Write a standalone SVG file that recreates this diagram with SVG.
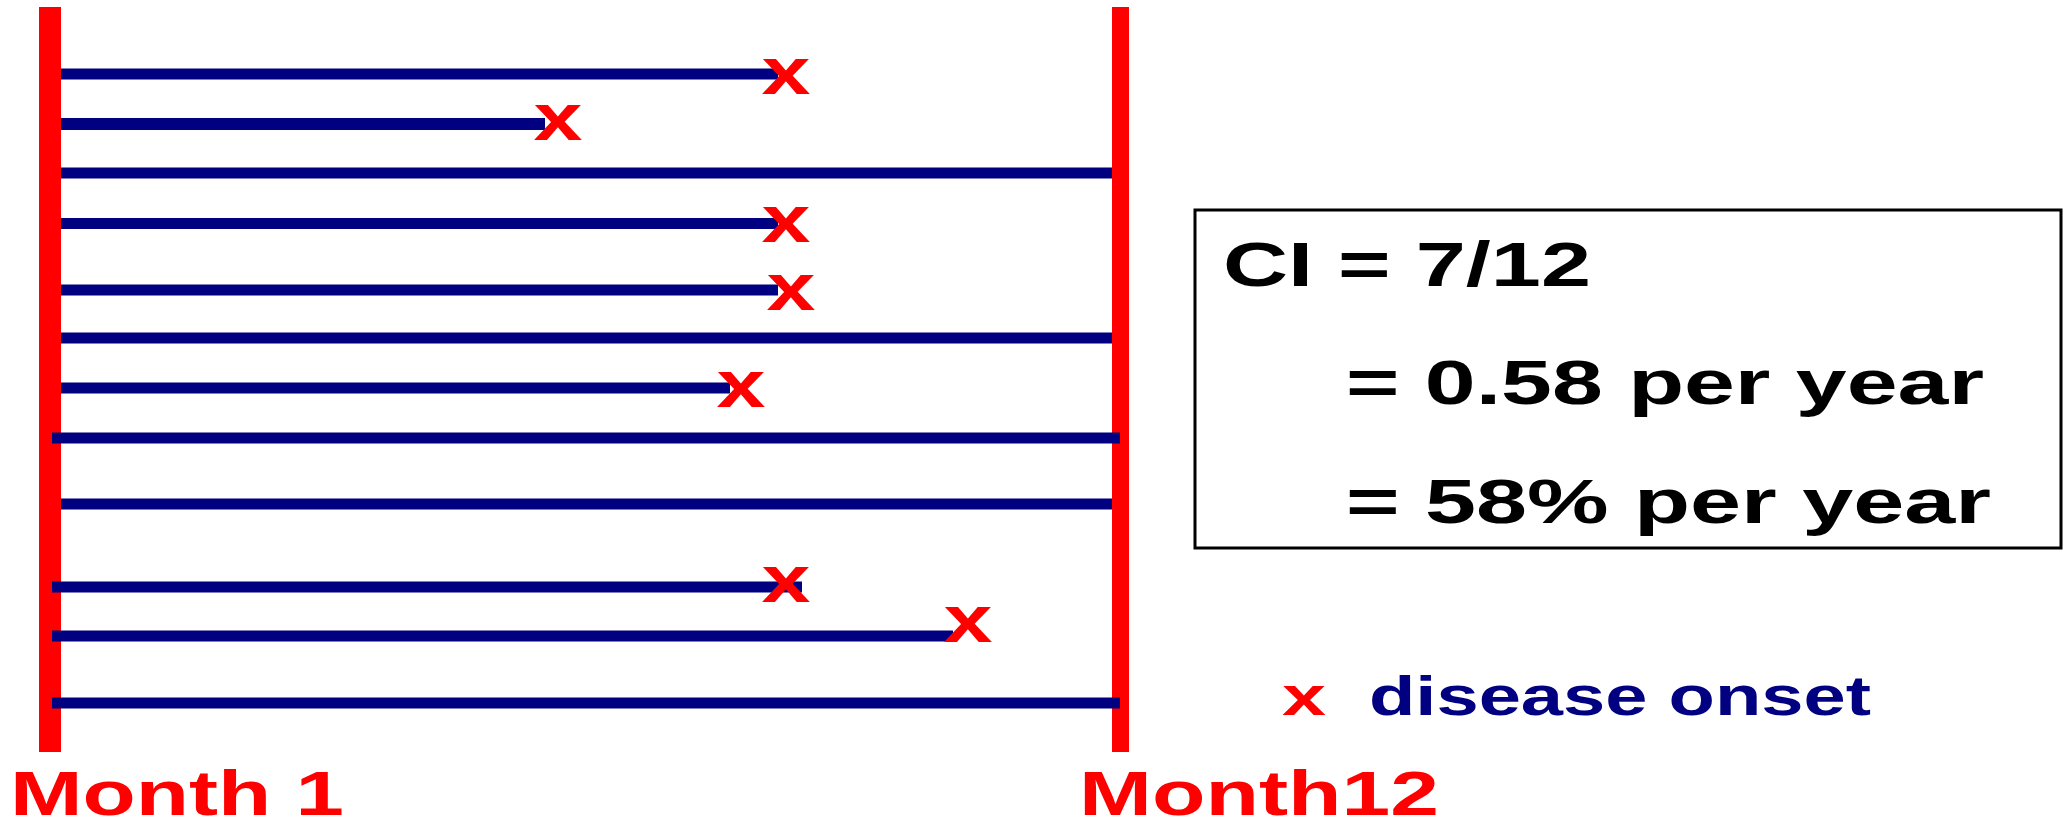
<svg xmlns="http://www.w3.org/2000/svg" width="2070" height="820" viewBox="0 0 2070 820">
<style>
.bar{fill:#ff0000}
.ln{stroke:#000080;stroke-width:11;fill:none}
.t{font-family:"Liberation Sans",Arial,sans-serif;font-weight:bold}
.mk{font-family:"Liberation Sans",Arial,sans-serif;font-weight:bold;font-size:67px;fill:#ff0000}
.red{fill:#ff0000}
.blk{fill:#000000}
.navy{fill:#000080}
</style>
<rect width="2070" height="820" fill="#ffffff"/>
<g id="month1-bar"><rect class="bar" x="39" y="7" width="22" height="745"/></g>
<g id="month12-bar"><rect class="bar" x="1112" y="7" width="17" height="745"/></g>
<g id="connectors">
<line class="ln" x1="61" y1="74" x2="778" y2="74"/>
<line class="ln" x1="61" y1="124" x2="545" y2="124" style="stroke-width:12"/>
<line class="ln" x1="61" y1="173" x2="1112" y2="173"/>
<line class="ln" x1="61" y1="223.5" x2="778" y2="223.5"/>
<line class="ln" x1="61" y1="290" x2="778" y2="290"/>
<line class="ln" x1="61" y1="338" x2="1112" y2="338"/>
<line class="ln" x1="61" y1="388" x2="730" y2="388"/>
<line class="ln" x1="52" y1="438" x2="1120" y2="438"/>
<line class="ln" x1="61" y1="504" x2="1112" y2="504"/>
<line class="ln" x1="52" y1="587" x2="802" y2="587"/>
<line class="ln" x1="52" y1="636" x2="953" y2="636"/>
<line class="ln" x1="52" y1="703" x2="1120" y2="703"/>
</g>
<g id="onsets">
<text class="mk" x="761.5" y="94" textLength="49" lengthAdjust="spacingAndGlyphs">x</text>
<text class="mk" x="533.5" y="140" textLength="49" lengthAdjust="spacingAndGlyphs">x</text>
<text class="mk" x="761.5" y="242" textLength="49" lengthAdjust="spacingAndGlyphs">x</text>
<text class="mk" x="766.5" y="310" textLength="49" lengthAdjust="spacingAndGlyphs">x</text>
<text class="mk" x="716.5" y="407" textLength="49" lengthAdjust="spacingAndGlyphs">x</text>
<text class="mk" x="761.5" y="602" textLength="49" lengthAdjust="spacingAndGlyphs">x</text>
<text class="mk" x="943.5" y="642" textLength="49" lengthAdjust="spacingAndGlyphs">x</text>
</g>
<g id="ci-box">
<rect x="1195" y="210" width="866" height="338" fill="#ffffff" stroke="#000000" stroke-width="3"/>
<text class="t blk" x="1223" y="286" font-size="63" textLength="368" lengthAdjust="spacingAndGlyphs">CI = 7/12</text>
<text class="t blk" x="1346" y="404" font-size="63" textLength="638" lengthAdjust="spacingAndGlyphs">= 0.58 per year</text>
<text class="t blk" x="1346" y="523" font-size="63" textLength="645" lengthAdjust="spacingAndGlyphs">= 58% per year</text>
</g>
<g id="legend">
<text class="t red" x="1282" y="715" font-size="56" textLength="44" lengthAdjust="spacingAndGlyphs">x</text>
<text class="t navy" x="1369" y="715" font-size="56" textLength="502" lengthAdjust="spacingAndGlyphs">disease onset</text>
</g>
<g id="labels">
<text class="t red" x="10" y="815" font-size="63" textLength="334" lengthAdjust="spacingAndGlyphs">Month 1</text>
<text class="t red" x="1079" y="815" font-size="63" textLength="360" lengthAdjust="spacingAndGlyphs">Month12</text>
</g>
</svg>
